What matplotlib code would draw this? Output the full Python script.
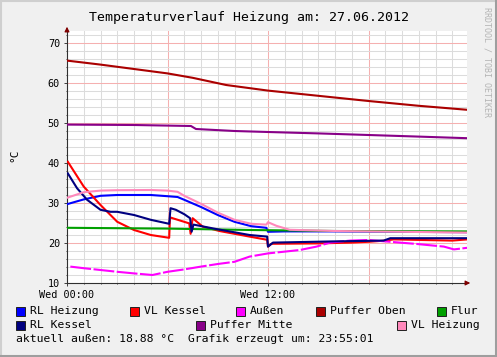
import matplotlib
matplotlib.use('Agg')
from matplotlib import pyplot as plt
from matplotlib.ticker import MultipleLocator, FixedLocator
from matplotlib.patches import Rectangle
from matplotlib.lines import Line2D

# hours since Wed 00:00
t_rl_heiz = [0, 0.5, 1, 2, 3, 5, 6, 6.6, 7, 8, 9, 10, 11, 11.9, 12.0, 13, 16, 20, 23.9]
rl_heiz = [29.7, 30.3, 30.9, 31.8, 32.0, 32.0, 31.7, 31.5, 30.8, 29.0, 27.0, 25.3, 24.2, 23.8, 22.8, 22.9, 22.9, 22.8, 22.7]

t_vl_kessel = [0.05, 1, 2, 3, 4, 5, 6.1, 6.15, 7.3, 7.38, 7.5, 8.1, 9.1, 10.9, 11.95, 12.0, 12.2, 15, 17, 18, 19, 19.5, 23, 23.9]
vl_kessel = [40.3, 34.1, 29.5, 25.3, 23.25, 22.0, 21.3, 26.4, 24.9, 22.3, 26.2, 24.1, 23.0, 21.6, 20.8, 19.1, 19.8, 19.9, 20.1, 20.3, 20.6, 20.9, 20.6, 20.9]

t_aussen = [0.2, 1, 2, 3, 4, 5.1, 6, 7, 8, 9, 10, 10.9, 12, 12.9, 13.9, 14.9, 15.7, 16.9, 18, 19.3, 20.9, 22.5, 23.1, 23.9]
aussen = [14.1, 13.7, 13.25, 12.8, 12.4, 12.0, 12.8, 13.4, 14.1, 14.75, 15.3, 16.6, 17.4, 17.8, 18.25, 19.1, 20.1, 20.6, 20.75, 20.3, 19.75, 19.1, 18.4, 18.8]

t_puffer_oben = [0, 2, 4, 6, 7.5, 9.5, 12, 15, 18, 21, 23.9]
puffer_oben = [65.6, 64.6, 63.5, 62.4, 61.3, 59.5, 58.1, 56.8, 55.5, 54.3, 53.3]

t_flur = [0, 6, 11, 16, 23.9]
flur = [23.8, 23.6, 23.25, 23.0, 22.9]

t_rl_kessel = [0.05, 0.6, 1.2, 2, 2.6, 3, 4, 5, 6.1, 6.18, 6.5, 7.0, 7.35, 7.44, 7.55, 8.9, 10.9, 11.95, 12.0, 12.3, 15.9, 18.9, 19.3, 23.9]
rl_kessel = [37.4, 33.7, 30.8, 28.3, 27.8, 27.8, 27.0, 25.8, 24.8, 28.7, 28.3, 27.2, 26.2, 22.8, 24.6, 23.5, 22.0, 21.6, 19.1, 20.1, 20.4, 20.6, 21.2, 21.2]

t_puffer_mitte = [0, 4, 7.4, 7.7, 10, 12, 15, 18, 21, 23.9]
puffer_mitte = [49.6, 49.5, 49.25, 48.5, 48.0, 47.75, 47.4, 47.0, 46.6, 46.2]

t_vl_heiz = [0, 0.5, 1, 2, 3, 5, 6, 6.6, 7, 8, 9, 10, 11, 11.9, 12.0, 12.5, 13.3, 16, 20, 23.9]
vl_heiz = [31.3, 32.0, 32.7, 33.1, 33.2, 33.25, 33.1, 32.8, 31.8, 29.8, 27.6, 25.8, 24.8, 24.6, 25.2, 24.3, 23.3, 23.0, 22.8, 22.6]

x_ticks = [0, 12]
x_labels = ['Wed 00:00', 'Wed 12:00']

W, H = 497, 357
mono = 'DejaVu Sans Mono'

fig = plt.figure(figsize=(W / 100, H / 100), dpi=100, facecolor='#f0f0f0')
ax = fig.add_axes([67 / W, 1 - 283 / H, 400 / W, 252 / H])
ax.set_facecolor('white')

series = [
    (t_rl_heiz, rl_heiz, '#0000ff', 'RL Heizung', '-'),
    (t_vl_kessel, vl_kessel, '#ff0000', 'VL Kessel', '-'),
    (t_aussen, aussen, '#ff00ff', 'Außen', (0, (10, 1.2))),
    (t_puffer_oben, puffer_oben, '#aa0000', 'Puffer Oben', '-'),
    (t_flur, flur, '#00a000', 'Flur', '-'),
    (t_rl_kessel, rl_kessel, '#000080', 'RL Kessel', '-'),
    (t_puffer_mitte, puffer_mitte, '#880088', 'Puffer Mitte', '-'),
    (t_vl_heiz, vl_heiz, '#ff88bb', 'VL Heizung', '-'),
]
for t, v, c, name, ls in series:
    ax.plot(t, v, color=c, lw=1.5, ls=ls, zorder=3)

ax.set_xlim(0, 400 / 16.75)
ax.set_ylim(10, 73)
ax.xaxis.set_major_locator(FixedLocator(x_ticks))
ax.set_xticklabels(x_labels)
ax.xaxis.set_minor_locator(MultipleLocator(1))
ax.yaxis.set_major_locator(MultipleLocator(10))
ax.yaxis.set_minor_locator(MultipleLocator(2))

# grid
for h in range(1, 24):
    col = '#f5b0b0' if h % 6 == 0 else '#dcdcdc'
    ax.axvline(h, color=col, lw=0.75, zorder=1)
for y in range(12, 73, 2):
    col = '#f5b0b0' if y % 10 == 0 else '#dcdcdc'
    ax.axhline(y, color=col, lw=0.75, zorder=1)

ax.tick_params(axis='both', which='both', length=2, width=0.7, color='#404040',
               labelsize=7.3, pad=3)
ax.tick_params(axis='x', which='minor', length=1)
ax.tick_params(axis='y', which='minor', length=1)
for lab in ax.get_xticklabels() + ax.get_yticklabels():
    lab.set_family(mono)

for s in ['top', 'right']:
    ax.spines[s].set_visible(False)
for s in ['left', 'bottom']:
    ax.spines[s].set_color('#303030')
    ax.spines[s].set_linewidth(0.8)

# axis arrows
ax.annotate('', xy=(0, 1 + 7 / 252), xycoords='axes fraction', xytext=(0, 0.99),
            arrowprops=dict(arrowstyle='-|>', color='#7f0000', lw=0.8, mutation_scale=7))
ax.annotate('', xy=(1 + 6 / 400, 0), xycoords='axes fraction', xytext=(0.99, 0),
            arrowprops=dict(arrowstyle='-|>', color='#7f0000', lw=0.8, mutation_scale=7))

fig.text(249 / W, 1 - 17 / H, 'Temperaturverlauf Heizung am: 27.06.2012',
         ha='center', va='center', family=mono, fontsize=9.5)
fig.text(14 / W, 1 - 155 / H, '°C', rotation=90, ha='center', va='center',
         family=mono, fontsize=8)
fig.text(487 / W, 1 - 7 / H, 'RRDTOOL / TOBI OETIKER', rotation=270, ha='center',
         va='top', family=mono, fontsize=6, color='#b4b4b4')

# legend
legend_pos = [(16, 311), (130, 311), (236, 311), (316, 311), (437, 311),
              (16, 325.5), (196, 325.5), (397, 325.5)]
for (t, v, c, name, ls), (lx, ly) in zip(series, legend_pos):
    fig.add_artist(Rectangle((lx / W, 1 - (ly + 4.5) / H), 9 / W, 9 / H,
                             transform=fig.transFigure, facecolor=c,
                             edgecolor='#202020', lw=0.7))
    fig.text((lx + 14) / W, 1 - ly / H, name, ha='left', va='center',
             family=mono, fontsize=8.2)
fig.text(16 / W, 1 - 339.5 / H,
         'aktuell außen: 18.88 °C  Grafik erzeugt um: 23:55:01',
         ha='left', va='center', family=mono, fontsize=8.2)

# frame shading
fig.add_artist(Line2D([0, 1], [1 - 0.5 / H, 1 - 0.5 / H], transform=fig.transFigure, color='#cfcfcf', lw=1.5))
fig.add_artist(Line2D([0.5 / W, 0.5 / W], [0, 1], transform=fig.transFigure, color='#cfcfcf', lw=1.5))
fig.add_artist(Line2D([0, 1], [1.2 / H, 1.2 / H], transform=fig.transFigure, color='#9e9e9e', lw=2.2))
fig.add_artist(Line2D([1 - 1.2 / W, 1 - 1.2 / W], [0, 1], transform=fig.transFigure, color='#9e9e9e', lw=2.2))

fig.savefig('out.png', dpi=100, facecolor=fig.get_facecolor())
